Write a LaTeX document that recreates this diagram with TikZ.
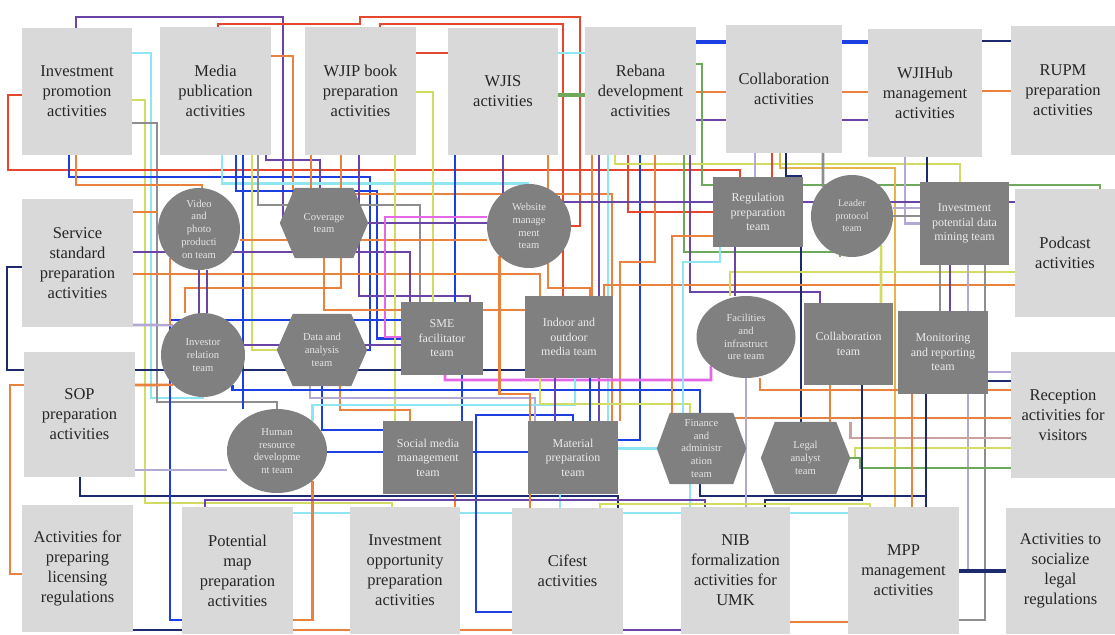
\documentclass[tikz,border=0pt]{standalone}
\usepackage{fontspec}
\setmainfont{Liberation Serif}
\usetikzlibrary{shapes.geometric}
\pgfdeclarelayer{back}
\pgfdeclarelayer{lines}
\pgfdeclarelayer{hexl}
\pgfsetlayers{back,lines,hexl,main}
\definecolor{cR}{HTML}{E4462E}
\definecolor{cO}{HTML}{E9813F}
\definecolor{cN}{HTML}{1D2B6E}
\definecolor{cB}{HTML}{1C3FE2}
\definecolor{cP}{HTML}{6A44A6}
\definecolor{cC}{HTML}{8FE6F2}
\definecolor{cY}{HTML}{D2DB62}
\definecolor{cG}{HTML}{8E8E8E}
\definecolor{cL}{HTML}{B3A8D6}
\definecolor{cGr}{HTML}{6EA95B}
\definecolor{cM}{HTML}{E467E6}
\definecolor{cAu}{HTML}{E7B44C}
\definecolor{cT}{HTML}{C9A2A0}
\definecolor{actfill}{HTML}{D9D9D9}
\definecolor{teamfill}{HTML}{808080}
\newcommand\actf{\fontsize{16.5}{20}\selectfont}
\newcommand\tmf{\fontsize{12}{14.5}\selectfont}
\newcommand\tsf{\fontsize{10.6}{12.8}\selectfont}
\newcommand\myhex[2]{\fill[teamfill] (#1.west) -- ([xshift=#2]#1.north west) -- ([xshift=-#2]#1.north east) -- (#1.east) -- ([xshift=-#2]#1.south east) -- ([xshift=#2]#1.south west) -- cycle;}
\tikzset{
  act/.style={fill=actfill, inner sep=0pt, align=center, font=\actf, text=black!85},
  teamr/.style={fill=teamfill, inner sep=0pt, align=center, font=\tmf, text=white!92!black},
  teamc/.style={fill=teamfill, circle, inner sep=0pt, align=center, font=\tsf, text=white!90!black},
  teame/.style={fill=teamfill, ellipse, inner sep=0pt, align=center, font=\tsf, text=white!90!black},
  hexn/.style={inner sep=0pt, align=center, font=\tsf, text=white!90!black},
  ln/.style={line width=2.7pt},
  thk/.style={line width=4.2pt}
}
\begin{document}
\begin{tikzpicture}[x=1pt,y=-1pt]
\useasboundingbox (0,0) rectangle (1115,634);
\begin{pgfonlayer}{back}
\fill[white] (0,0) rectangle (1115,634);
\end{pgfonlayer}
% activity boxes
\node[act, minimum width=110pt, minimum height=127pt] (ipa) at (77,91.5) {Investment\\promotion\\activities};
\node[act, minimum width=111pt, minimum height=128pt] (mpa) at (215.5,91) {Media\\publication\\activities};
\node[act, minimum width=111pt, minimum height=128pt] (wjip) at (360.5,91) {WJIP book\\preparation\\activities};
\node[act, minimum width=110pt, minimum height=127pt] (wjis) at (503,91.5) {WJIS\\activities};
\node[act, minimum width=111pt, minimum height=128pt] (reb) at (640.5,91) {Rebana\\development\\activities};
\node[act, minimum width=116pt, minimum height=128pt] (cola) at (784,89) {Collaboration\\activities};
\node[act, minimum width=114pt, minimum height=128pt] (hub) at (925,93) {WJIHub\\management\\activities};
\node[act, minimum width=104pt, minimum height=129pt] (rupm) at (1063,90.5) {RUPM\\preparation\\activities};
\node[act, minimum width=111pt, minimum height=128pt] (ssp) at (77.5,263) {Service\\standard\\preparation\\activities};
\node[act, minimum width=111pt, minimum height=125pt] (sop) at (79.5,414.5) {SOP\\preparation\\activities};
\node[act, minimum width=111pt, minimum height=127pt] (lic) at (77.5,568.5) {Activities for\\preparing\\licensing\\regulations};
\node[act, minimum width=100pt, minimum height=128pt] (pod) at (1065,253) {Podcast\\activities};
\node[act, minimum width=104pt, minimum height=126pt] (rec) at (1063,415) {Reception\\activities for\\visitors};
\node[act, minimum width=109pt, minimum height=126pt] (soc) at (1060.5,571) {Activities to\\socialize\\legal\\regulations};
\node[act, minimum width=111pt, minimum height=127pt] (pmap) at (237.5,570.5) {Potential\\map\\preparation\\activities};
\node[act, minimum width=110pt, minimum height=127pt] (iop) at (405,570.5) {Investment\\opportunity\\preparation\\activities};
\node[act, minimum width=111pt, minimum height=126pt] (cif) at (567.5,571) {Cifest\\activities};
\node[act, minimum width=109pt, minimum height=127pt] (nib) at (735.5,570.5) {NIB\\formalization\\activities for\\UMK};
\node[act, minimum width=111pt, minimum height=127pt] (mpp) at (903.5,570.5) {MPP\\management\\activities};
% team nodes
\node[teamc, minimum size=82pt] (vid) at (199,229) {Video\\and\\photo\\producti\\on team};
\node[hexn, minimum width=88pt, minimum height=70pt] (cov) at (324,223) {Coverage\\team};
\node[teamc, minimum size=84pt] (web) at (529,226) {Website\\manage\\ment\\team};
\node[teamc, minimum size=84pt] (ir) at (203,355) {Investor\\relation\\team};
\node[hexn, minimum width=90pt, minimum height=72pt] (dat) at (322,350) {Data and\\analysis\\team};
\node[teamr, minimum width=82pt, minimum height=73pt] (sme) at (442,338.5) {SME\\facilitator\\team};
\node[teamr, minimum width=88pt, minimum height=82pt] (idm) at (569,337) {Indoor and\\outdoor\\media team};
\node[teamr, minimum width=90pt, minimum height=70pt] (reg) at (758,212) {Regulation\\preparation\\team};
\node[teamc, minimum size=82pt, font=\fontsize{10}{12.5}\selectfont] (lead) at (852,216) {Leader\\protocol\\team};
\node[teamr, minimum width=89pt, minimum height=83pt] (ipd) at (964.5,223.5) {Investment\\potential data\\mining team};
\node[teame, minimum width=99pt, minimum height=82pt] (fac) at (746,337) {Facilities\\and\\infrastruct\\ure team};
\node[teamr, minimum width=89pt, minimum height=82pt] (colt) at (848.5,344) {Collaboration\\team};
\node[teamr, minimum width=90pt, minimum height=83pt] (mon) at (943,352.5) {Monitoring\\and reporting\\team};
\node[teame, minimum width=100pt, minimum height=84pt] (hr) at (277,451) {Human\\resource\\developme\\nt team};
\node[teamr, minimum width=90pt, minimum height=73pt] (smm) at (428,457.5) {Social media\\management\\team};
\node[teamr, minimum width=90pt, minimum height=73pt] (mat) at (573,457.5) {Material\\preparation\\team};
\node[hexn, minimum width=89pt, minimum height=71pt] (fin) at (701.5,448.5) {Finance\\and\\administr\\ation\\team};
\node[hexn, minimum width=89pt, minimum height=72pt] (leg) at (805.5,458) {Legal\\analyst\\team};
\begin{pgfonlayer}{hexl}
\myhex{cov}{15}
\myhex{dat}{16}
\myhex{fin}{13}
\myhex{leg}{14}
\end{pgfonlayer}
\begin{pgfonlayer}{lines}
% top-left
\draw[ln,cP] (ipa.north -| 76,0) |- (283,17) |- (cov.west);
\draw[ln,cR] (mpa.north -| 218,0) |- (360,24) |- (580,17) |- (web.east);
\draw[ln,cR] (wjip.north -| 380,0) |- (563,24) -- (idm.north -| 563,0);
\draw[ln,cC] (ipa.east |- 0,53) -| (151,398) -| (ir.south);
\draw[ln,cY] (ipa.east |- 0,100) -| (145,503) -| (iop.north -| 392,0);
\draw[ln,cG] (ipa.east |- 0,123) -| (157,402) -| (hr.north);
\draw[ln,cR] (ipa.west |- 0,95) -| (8,170) -| (reg.north -| 740,0);
\draw[ln,cB] (ipa.south -| 69,0) |- (370,177) |- (dat.east);
\draw[ln,cO] (ipa.south -| 76,0) |- (202,185) -- (vid.north -| 202,0);
\draw[ln,cO] (mpa.east |- 0,56) -| (293,200) -| (cov.north);
\draw[ln,cP] (mpa.south -| 266,0) |- (320,160) -- (cov.north -| 320,0);
\draw[ln,cC] (mpa.south -| 222,0) |- (web.north);
\draw[ln,cB] (mpa.south -| 243,0) -- (hr.north -| 243,0);
\draw[ln,cB] (mpa.south -| 236,0) |- (377,191) |- (sme.west);
\draw[ln,cY] (mpa.south -| 252,0) |- (dat.west);
\draw[ln,cG] (mpa.south -| 258,0) |- (420,205) -- (sme.north -| 420,0);
\draw[ln,cO] (wjip.south -| 311,0) |- (612,194) -- (mat.north -| 612,0);
\draw[ln,cO] (wjip.south -| 341,0) |- (185,288) -- (ir.north -| 185,0);
\draw[ln,cP] (wjip.south -| 359,0) |- (470,296) -- (sme.north -| 470,0);
\draw[ln,cY] (wjip.south -| 395,0) -- (smm.north -| 395,0);
\draw[ln,cY] (wjip.east |- 0,92) -| (sme.north -| 433,0);
\draw[ln,cR] (wjip.east |- 0,53) -- (wjis.west |- 0,53);
% top row links
\draw[thk,cGr] (wjis.east |- 0,95) -- (reb.west |- 0,95);
\draw[ln,cC] (wjis.east |- 0,53) -- (reb.west |- 0,53);
\draw[thk,cB] (reb.east |- 0,42) -- (cola.west |- 0,42);
\draw[ln,cO] (reb.east |- 0,92) -- (cola.west |- 0,92);
\draw[ln,cP] (reb.east |- 0,120) -- (cola.west |- 0,120);
\draw[thk,cB] (cola.east |- 0,42) -- (hub.west |- 0,42);
\draw[ln,cO] (cola.east |- 0,92) -- (hub.west |- 0,92);
\draw[ln,cP] (cola.east |- 0,120) -- (hub.west |- 0,120);
\draw[ln,cN] (hub.east |- 0,41) -- (rupm.west |- 0,41);
\draw[ln,cO] (hub.east |- 0,91) -- (rupm.west |- 0,91);
\draw[ln,cGr] (reb.east |- 0,64) -| (702,185) -| (pod.north -| 1100,0);
% WJIS / Rebana bottom
\draw[ln,cB] (wjis.south -| 455,0) -- (sme.north -| 455,0);
\draw[ln,cP] (wjis.south -| 503,0) |- (cov.east);
\draw[ln,cO] (wjis.south -| 548,0) |- (590,288) -- (idm.north -| 590,0);
\draw[ln,cO] (reb.south -| 592,0) |- (idm.east);
\draw[ln,cP] (reb.south -| 599,0) -- (mat.north -| 599,0);
\draw[ln,cC] (reb.south -| 608,0) |- (fin.west);
\draw[ln,cB] (reb.south -| 640,0) |- (mat.east |- 0,440);
\draw[ln,cR] (reb.south -| 628,0) |- (reg.west);
\draw[ln,cY] (reb.south -| 615,0) |- (960,164) -- (ipd.north -| 960,0);
\draw[ln,cGr] (reb.south -| 684,0) |- (840,252) -- (lead.south -| 840,0);
\draw[ln,cP] (reb.south -| 690,0) |- (820,292) -- (colt.north -| 820,0);
\draw[ln,cO] (reb.south -| 655,0) |- (620,262) -- (mat.north -| 620,0);
% Collaboration / WJIHub bottom
\draw[ln,cAu] (cola.south -| 780,0) |- (895,168) -- (mpp.north -| 895,0);
\draw[ln,cN] (cola.south -| 786,0) |- (801,176) -- (leg.north -| 801,0);
\draw[ln,cR] (cola.south -| 772,0) -- (reg.north -| 772,0);
\draw[ln,cL] (cola.south -| 755,0) -- (reg.north -| 755,0);
\draw[ln,cG] (cola.south -| 823,0) -- (lead.north west);
\draw[ln,cL] (hub.south -| 905,0) |- (ipd.west);
\draw[ln,cN] (hub.south -| 927,0) -- (ipd.north -| 927,0);
% right side
\draw[ln,cO] (pod.west |- 0,285) -| (idm.north -| 604,0);
\draw[ln,cY] (pod.west |- 0,272) -| (fac.north -| 730,0);
\draw[ln,cP] (pod.west |- 0,202) -| (web.north east);
\draw[ln,cL] (lead.east |- 0,208) -- (ipd.west |- 0,208);
\draw[ln,cG] (lead.east) -- (ipd.west |- lead.east);
\draw[ln,cL] (ipd.south -| 968,0) |- (soc.west);
\draw[ln,cG] (ipd.south -| 985,0) |- (mpp.east |- 0,620);
\draw[ln,cG] (ipd.south -| 940,0) -- (mon.north -| 940,0);
\draw[thk,cN] (mpp.east |- 0,571) -- (soc.west);
\draw[ln,cO] (rec.west |- 0,390) -| (fac.south -| 760,0);
\draw[ln,cO] (rec.west |- 0,418) -| (fin.north -| 712,0);
\draw[ln,cT] (rec.west |- 0,438) -| (leg.north east);
\draw[ln,cY] (rec.west |- 0,448) -- (855,448) |- (leg.east);
\draw[ln,cGr] (rec.west |- 0,468) -- (860,468) |- (leg.east);
\draw[ln,cL] (mon.east |- 0,372) -- (rec.west |- 0,372);
\draw[ln,cN] (mon.east |- 0,381) -- (rec.west |- 0,381);
\draw[ln,cN] (fin.south -| 700,0) |- (926,496) -- (mon.south -| 926,0);
\draw[ln,cN] (mpp.north -| 926,0) -- (926,496);
\draw[ln,cO] (mon.south -| 912,0) -- (mpp.north -| 912,0);
\draw[ln,cN] (colt.south -| 862,0) |- (765,500) -- (nib.north -| 765,0);
\draw[ln,cL] (fac.south) -- (nib.north -| 746,0);
\draw[ln,cC] (fin.south -| 690,0) -- (nib.north -| 690,0);
\draw[ln,cC] (pmap.east |- 0,513) -- (mpp.west |- 0,513);
% left side
\draw[ln,cN] (ssp.west |- 0,267) -| (7,370) -- (sop.west |- 0,370);
\draw[ln,cN] (sop.east |- 0,370) -- (idm.west |- 0,370);
\draw[ln,cO] (sop.west |- 0,385) -| (10,574) -- (lic.west |- 0,574);
\draw[ln,cN] (sop.south -| 80,0) |- (618,496) -- (cif.north -| 618,0);
\draw[ln,cB] (pmap.west |- 0,620) -| (170,320) -- (sme.west |- 0,320);
\draw[ln,cL] (ssp.east |- 0,325) -- (ir.north west);
\draw[ln,cO] (ssp.east |- 0,212) -- (vid.west |- 0,212);
\draw[ln,cO] (ssp.east |- 0,274) -| (idm.north -| 540,0);
\draw[ln,cP] (ssp.east |- 0,252) -| (sme.north -| 410,0);
\draw[ln,cL] (sop.east |- 0,470) -- (hr.west |- 0,470);
\draw[ln,cO] (sop.east |- 0,385) -- (ir.south west);
\draw[ln,cO] (vid.south west) -- (vid.south west |- ir.north west);
\draw[ln,cP] (vid.south -| 207,0) -- (ir.north -| 207,0);
% bottom
\draw[ln,cB] (hr.east |- 0,452) -- (smm.west |- 0,452);
\draw[ln,cB] (smm.east |- 0,452) -- (mat.west |- 0,452);
\draw[ln,cB] (cif.west |- 0,612) -| (476,415) -| (mat.north);
\draw[ln,cO] (pmap.east |- 0,620) -| (hr.south east);
\draw[ln,cN] (lic.east |- 0,630) -- (pmap.west |- 0,630);
\draw[ln,cO] (pmap.east |- 0,630) -- (cif.west |- 0,630);
\draw[ln,cP] (cif.east |- 0,630) -- (nib.west |- 0,630);
\draw[ln,cO] (nib.east |- 0,622) -- (mpp.west |- 0,622);
\draw[ln,cO] (smm.south -| 455,0) -- (iop.north -| 455,0);
\draw[ln,cC] (mat.south -| 560,0) -- (cif.north -| 560,0);
\draw[ln,cB] (sme.south -| 462,0) -- (smm.north -| 462,0);
\draw[ln,cP] (pmap.north -| 205,0) |- (705,500) -- (nib.north -| 705,0);
\draw[ln,cY] (cif.north -| 600,0) |- (870,504) -- (mpp.north -| 870,0);
% middle
\draw[ln,cO] (vid.east |- 0,240) -- (web.west |- 0,240);
\draw[ln,cP] (vid.south) |- (sme.west |- 0,345);
\draw[ln,cM] (sme.west |- 0,337) -| (385,217) -- (web.west |- 0,217);
\draw[ln,cM] (sme.south -| 445,0) |- (711,380) -- (fac.south west);
\draw[ln,cO] (cov.south) |- (idm.west |- 0,310);
\draw[ln,cB] (dat.south) |- (smm.west |- 0,430);
\draw[ln,cO] (dat.south -| 340,0) |- (410,410) -- (smm.north -| 410,0);
\draw[ln,cL] (dat.south -| 310,0) |- (535,398) -- (mat.north -| 535,0);
\draw[ln,cC] (hr.north east) |- (575,405) -- (idm.south -| 575,0);
\draw[ln,cB] (ir.south east) |- (700,390) -- (fin.north -| 700,0);
\draw[ln,cO] (web.south west) |- (500,394) -| (cif.north -| 530,0);
\draw[ln,cY] (idm.south -| 540,0) |- (690,404) -- (fin.north -| 690,0);
\draw[ln,cB] (idm.south -| 590,0) -- (mat.north -| 590,0);
\draw[ln,cP] (idm.south -| 555,0) -- (mat.north -| 555,0);
\draw[ln,cP] (reg.south -| 735,0) -- (fac.north -| 735,0);
\draw[ln,cY] (lead.south east) -- (colt.north -| 881,0);
\draw[ln,cP] (ipd.south -| 950,0) -- (mon.north -| 950,0);
\draw[ln,cO] (colt.south -| 830,0) -- (leg.north -| 830,0);
\draw[ln,cO] (reg.west |- 0,236) -| (fin.north -| 672,0);
\draw[ln,cC] (reg.south -| 720,0) |- (683,262) -- (fin.north -| 683,0);
\end{pgfonlayer}
\end{tikzpicture}
\end{document}
